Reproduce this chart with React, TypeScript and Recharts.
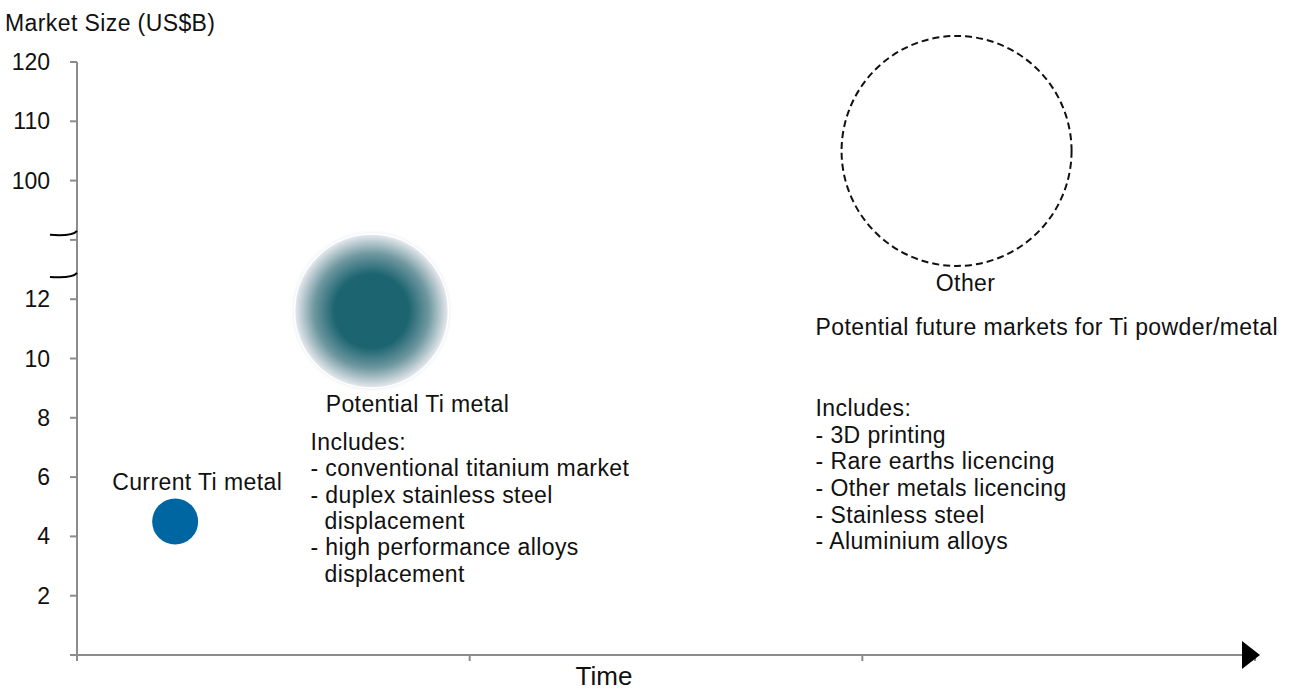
import { ScatterChart, Scatter, XAxis, YAxis, ReferenceDot, Customized } from "recharts";

// market bubbles (x = time position, size = US$B)
const bubbleNames = ["Current Ti metal", "Potential Ti metal", "Other"];
const timeValues = [0.25, 0.75, 2.24];
const marketSize = [4.5, 11.6, 105];

// broken y axis: 0..12 drawn as-is, 100..120 squeezed on top
const yTicks = [0, 2, 4, 6, 8, 10, 12, 14, 16, 18, 20];
const yTickLabels = ["", "2", "4", "6", "8", "10", "12", "", "100", "110", "120"];
const xTicks = [0, 1, 2, 3];
const axisBreaks = [14.17, 12.75];

const potentialIncludes = [
  "Includes:",
  "- conventional titanium market",
  "- duplex stainless steel",
  "  displacement",
  "- high performance alloys",
  "  displacement",
];
const otherIncludes = [
  "Includes:",
  "- 3D printing",
  "- Rare earths licencing",
  "- Other metals licencing",
  "- Stainless steel",
  "- Aluminium alloys",
];
const otherSubtitle = "Potential future markets for Ti powder/metal";

const FONT = "'Liberation Sans', Arial, sans-serif";
const AXIS = "#8c8c8c";
const LS = 0.4;

const toDisplay = (v: number) => (v <= 12 ? v : 16 + (v - 100) / 5);

const point = (i: number) => [{ x: timeValues[i], y: toDisplay(marketSize[i]), name: bubbleNames[i] }];

function TextBlock({ x, y, lines, step }: { x: number; y: number; lines: string[]; step: number }) {
  return (
    <g>
      {lines.map((l, i) => (
        <text
          key={i}
          x={l.startsWith(" ") ? x + 14 : x}
          y={y + i * step}
          fontSize={23}
          letterSpacing={LS}
          fontFamily={FONT}
          fill="#111"
        >
          {l.trim()}
        </text>
      ))}
    </g>
  );
}

const CurrentShape = (p: any) => (
  <g>
    <circle cx={p.cx} cy={p.cy} r={23} fill="#0066a1" />
    <text x={p.cx + 22} y={p.cy - 32} textAnchor="middle" fontSize={23} letterSpacing={LS} fontFamily={FONT} fill="#111">
      {bubbleNames[0]}
    </text>
  </g>
);

const PotentialShape = (p: any) => (
  <g>
    <defs>
      <radialGradient id="potGrad" cx="50%" cy="50%" r="50%">
        <stop offset="0%" stopColor="#1b6470" />
        <stop offset="45%" stopColor="#1b6470" />
        <stop offset="70%" stopColor="#6f98a0" />
        <stop offset="92%" stopColor="#dfe4e9" />
        <stop offset="100%" stopColor="#ffffff" stopOpacity={0} />
      </radialGradient>
    </defs>
    <circle cx={p.cx} cy={p.cy} r={82} fill="url(#potGrad)" />
    <circle cx={p.cx} cy={p.cy} r={77} fill="none" stroke="#ffffff" strokeWidth={1.5} />
    <text x={p.cx + 46} y={p.cy + 101} textAnchor="middle" fontSize={23} letterSpacing={LS} fontFamily={FONT} fill="#111">
      {bubbleNames[1]}
    </text>
    <TextBlock x={p.cx - 61} y={p.cy + 139} lines={potentialIncludes} step={26.3} />
  </g>
);

const OtherShape = (p: any) => (
  <g>
    <circle cx={p.cx} cy={p.cy} r={115} fill="none" stroke="#111" strokeWidth={2} strokeDasharray="7 4" />
    <text x={p.cx + 9} y={p.cy + 140} textAnchor="middle" fontSize={23} letterSpacing={LS} fontFamily={FONT} fill="#111">
      {bubbleNames[2]}
    </text>
    <text x={p.cx - 141} y={p.cy + 184} fontSize={23} letterSpacing={LS} fontFamily={FONT} fill="#111">
      {otherSubtitle}
    </text>
    <TextBlock x={p.cx - 141} y={p.cy + 265} lines={otherIncludes} step={26.7} />
  </g>
);

const YTick = (p: any) => {
  const idx = yTicks.indexOf(p.payload.value);
  return (
    <text x={p.x} y={p.y + 8} textAnchor="end" fontSize={23} fontFamily={FONT} fill="#111">
      {yTickLabels[idx]}
    </text>
  );
};

const NoTick = () => <g />;

const Arrow = (p: any) => (
  <polygon points={`${p.cx - 13},${p.cy - 14} ${p.cx + 5},${p.cy} ${p.cx - 13},${p.cy + 14}`} fill="#000" />
);

const BreakMark = (p: any) => (
  <path
    d={`M${p.cx - 27},${p.cy} C${p.cx - 12},${p.cy + 1} ${p.cx - 3},${p.cy} ${p.cx},${p.cy - 4}`}
    fill="none"
    stroke="#000"
    strokeWidth={2}
  />
);

const Titles = () => (
  <g>
    <text x={5} y={31} fontSize={23} letterSpacing={LS} fontFamily={FONT} fill="#111">
      Market Size (US$B)
    </text>
    <text x={604} y={685} textAnchor="middle" fontSize={26} fontFamily={FONT} fill="#111">
      Time
    </text>
  </g>
);

export default function App() {
  return (
    <div style={{ position: "absolute", left: 0, top: 0, background: "#fff" }}>
      <ScatterChart width={1293} height={691} margin={{ top: 62, right: 38, left: 17, bottom: 6 }}>
        <XAxis
          type="number"
          dataKey="x"
          domain={[0, 3]}
          ticks={xTicks}
          interval={0}
          tick={<NoTick />}
          tickSize={6}
          height={30}
          axisLine={{ stroke: AXIS, strokeWidth: 2 }}
          tickLine={{ stroke: AXIS, strokeWidth: 2 }}
        />
        <YAxis
          type="number"
          dataKey="y"
          domain={[0, 20]}
          ticks={yTicks}
          interval={0}
          width={60}
          tickSize={7}
          tickMargin={20}
          tick={<YTick />}
          axisLine={{ stroke: AXIS, strokeWidth: 2 }}
          tickLine={{ stroke: AXIS, strokeWidth: 2 }}
        />
        <Scatter data={point(1)} shape={PotentialShape} isAnimationActive={false} />
        <Scatter data={point(0)} shape={CurrentShape} isAnimationActive={false} />
        <Scatter data={point(2)} shape={OtherShape} isAnimationActive={false} />
        {axisBreaks.map((b, i) => (
          <ReferenceDot key={i} x={0} y={b} ifOverflow="visible" shape={BreakMark} />
        ))}
        <ReferenceDot x={3} y={0} ifOverflow="visible" shape={Arrow} />
        <Customized component={Titles} />
      </ScatterChart>
    </div>
  );
}
